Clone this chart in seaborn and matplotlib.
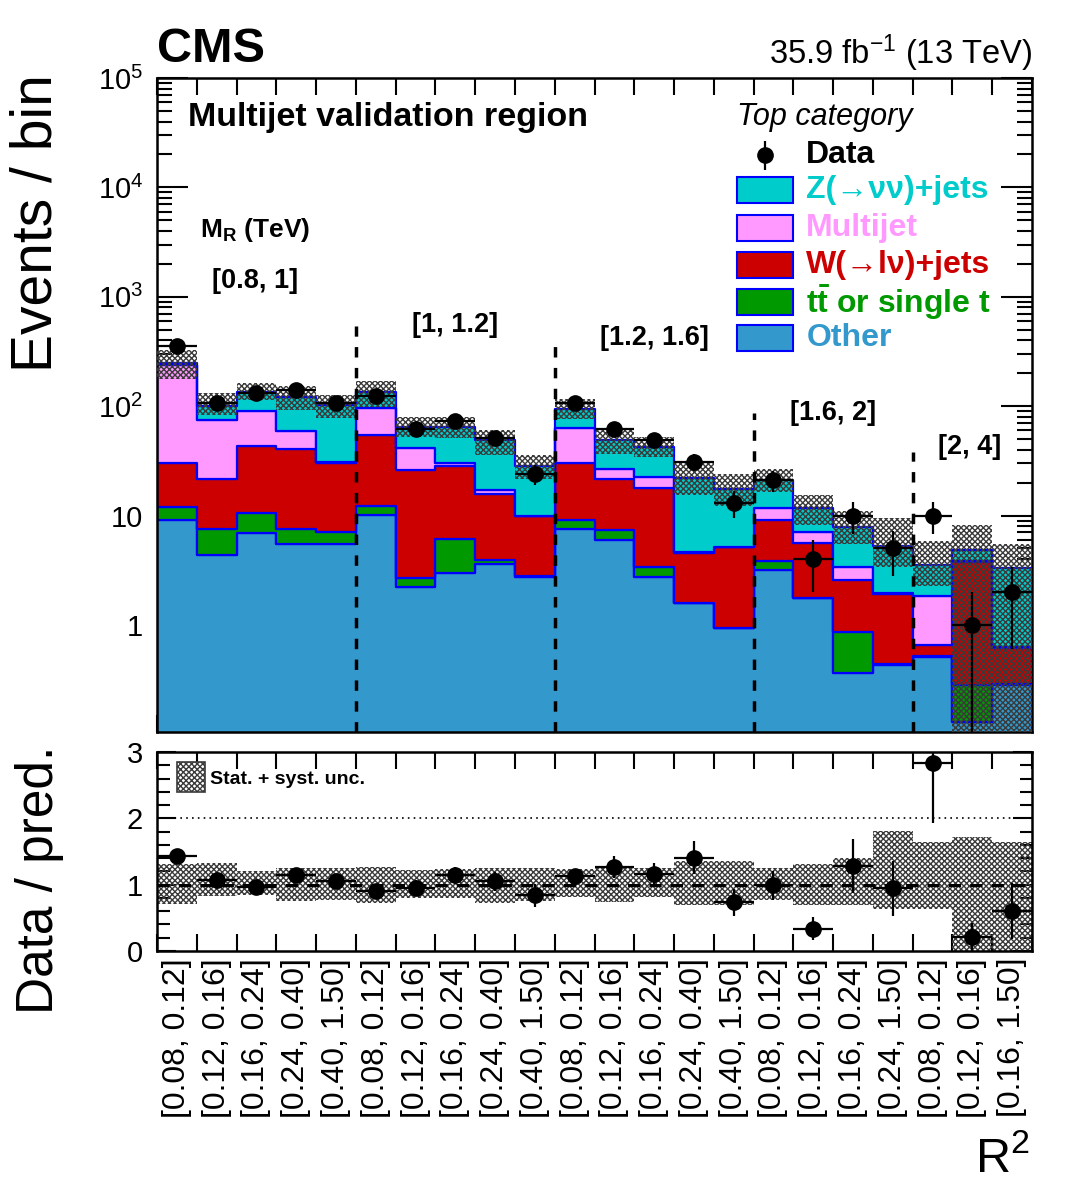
import matplotlib
matplotlib.use("Agg")
import matplotlib.pyplot as plt
from matplotlib.patches import Rectangle
from matplotlib.ticker import LogLocator, NullFormatter, MultipleLocator
import numpy as np
import pandas as pd
import seaborn as sns

# R^2 bins inside each M_R group
r2_labels = (["[0.08, 0.12]", "[0.12, 0.16]", "[0.16, 0.24]", "[0.24, 0.40]", "[0.40, 1.50]"] * 3
             + ["[0.08, 0.12]", "[0.12, 0.16]", "[0.16, 0.24]", "[0.24, 1.50]"]
             + ["[0.08, 0.12]", "[0.12, 0.16]", "[0.16, 1.50]"])
mr_groups = ["[0.8, 1]", "[1, 1.2]", "[1.2, 1.6]", "[1.6, 2]", "[2, 4]"]
group_edges = [5, 10, 15, 19]

# predicted yields per process
other = [9.1, 4.4, 6.9, 5.5, 5.5, 10.1, 2.24, 3.0, 3.6, 2.76, 7.5,
         6.0, 2.73, 1.58, 0.93, 3.18, 1.75, 0.36, 0.43, 0.51, 0.13, 0.28]
ttbar = [2.9, 3.2, 3.6, 2.1, 1.5, 2.1, 0.43, 3.1, 0.3, 0.05, 1.7,
         1.3, 0.67, 0.02, 0.01, 0.69, 0.01, 0.51, 0.01, 0.01, 0.15, 0.01]
wjets = [18, 13.9, 32.5, 33.4, 23, 41.8, 23.3, 22.4, 11.7, 7.1, 21.2,
         14.1, 14.3, 2.97, 4.17, 5.33, 3.85, 1.73, 1.49, 0.13, 3.52, 0.33]
qcd = [207, 53, 47.6, 18, 1.0, 43, 15.7, 2.0, 1.5, 0.05, 32.1,
       5.4, 4.9, 0.03, 0.02, 2.4, 1.5, 0.8, 0.02, 1.2, 0.01, 0.01]
zinv = [10, 25.5, 44.4, 63, 71, 38, 23.3, 33.5, 31.5, 18.6, 31.5,
        22.2, 19.4, 17.4, 12.5, 9.6, 4.7, 4.4, 3.35, 1.68, 1.0, 2.67]

data = [353, 107, 131, 140, 108, 123, 62, 73, 51, 24, 106,
        62, 49, 31, 13, 21, 4, 10, 5, 10, 1, 2]
data_err = [18.8, 10.3, 11.4, 11.8, 10.4, 11.1, 7.9, 8.5, 7.1, 4.9, 10.3,
            7.9, 7.0, 5.6, 3.6, 4.6, 2.0, 3.2, 2.2, 3.2, 1.0, 1.4]

# relative stat + syst uncertainty on the prediction
unc_up = [.31, .33, .20, .25, .25, .27, .22, .24, .25, .25, .24,
          .26, .25, .36, .36, .25, .31, .40, .81, .65, .72, .65]
unc_dn = [.29, .17, .16, .25, .23, .27, .20, .20, .27, .25, .19,
          .26, .19, .30, .30, .23, .31, .30, .36, .36, 1.0, 1.0]

processes = ["Z(\u2192\u03bd\u03bd)+jets", "Multijet", "W(\u2192l\u03bd)+jets", "tt or single t", "Other"]
colors = ["#00CCCC", "#FF99FF", "#CC0000", "#009900", "#3399CC"]

sns.set_theme(style="ticks")
plt.rcParams["font.family"] = ["Liberation Sans", "DejaVu Sans"]
plt.rcParams["mathtext.fontset"] = "custom"
plt.rcParams["mathtext.rm"] = "Liberation Sans"
plt.rcParams["mathtext.bf"] = "Liberation Sans:bold"
plt.rcParams["mathtext.it"] = "Liberation Sans:italic"
plt.rcParams["hatch.linewidth"] = 1.0
plt.rcParams["axes.linewidth"] = 1.8
for key in ["text.color", "axes.labelcolor", "axes.edgecolor", "xtick.color", "ytick.color"]:
    plt.rcParams[key] = "black"

nb = len(data)
edges = np.arange(nb + 1)
centers = edges[:-1] + 0.5

df = pd.DataFrame({"bin": centers, processes[0]: zinv, processes[1]: qcd,
                   processes[2]: wjets, processes[3]: ttbar, processes[4]: other})
df = df.melt(id_vars="bin", var_name="process", value_name="events")

total = np.array(other) + np.array(ttbar) + np.array(wjets) + np.array(qcd) + np.array(zinv)
data = np.array(data, dtype=float)
data_err = np.array(data_err)
up = np.array(unc_up)
dn = np.array(unc_dn)

fig = plt.figure(figsize=(10.67, 11.82), dpi=100)
ax = fig.add_axes([157 / 1067, 1 - 732 / 1182, 875 / 1067, 654 / 1182])
rax = fig.add_axes([157 / 1067, 1 - 951 / 1182, 875 / 1067, 199 / 1182])

sns.histplot(data=df, x="bin", weights="events", hue="process", hue_order=processes,
             palette=colors, multiple="stack", binwidth=1, binrange=(0, nb), element="step",
             edgecolor="#0000FF", linewidth=1.6, alpha=1, legend=False, ax=ax)

ymin = 0.105
ax.set_yscale("log")
ax.set_ylim(ymin, 1e5)
ax.set_xlim(0, nb)

band_lo = np.clip(total * (1 - dn), 1e-3, None)
band_hi = total * (1 + up)
ax.fill_between(edges, np.r_[band_lo, band_lo[-1]], np.r_[band_hi, band_hi[-1]], step="post",
                facecolor="none", edgecolor="#3a3a3a", hatch="xxxxxx", linewidth=0, zorder=3)

ax.errorbar(centers, data, yerr=data_err, xerr=0.5, fmt="o", color="black",
            ms=11, elinewidth=1.6, capsize=0, zorder=5)

# M_R group separators
sep_top = [537, 401, 86, 38]
ax.vlines(group_edges, ymin, sep_top, colors="black", linestyles=(0, (3, 3)), linewidth=2.5, zorder=4)

ax.set_xlabel("")
ax.set_ylabel("")
ax.set_xticks(edges)
ax.xaxis.set_major_formatter(NullFormatter())
ax.set_yticks([1, 10, 1e2, 1e3, 1e4, 1e5])
ax.set_yticklabels(["1", "10", "$10^{2}$", "$10^{3}$", "$10^{4}$", "$10^{5}$"])
ax.yaxis.set_minor_locator(LogLocator(base=10, subs=np.arange(2, 10)))
ax.yaxis.set_minor_formatter(NullFormatter())
ax.tick_params(which="both", direction="in", top=True, right=True, width=1.5, labelsize=21)
ax.tick_params(axis="x", which="major", length=12)
ax.tick_params(axis="y", which="major", length=22, pad=10)
ax.tick_params(axis="y", which="minor", length=11)

bold = dict(fontweight="bold", transform=ax.transAxes)
ax.text(0.035, 0.940, "Multijet validation region", fontsize=24.5, va="center", **bold)
ax.text(0.049, 0.768, r"M$_{\mathbf{R}}$ (TeV)", fontsize=19, va="center", **bold)
group_pos = [(0.112, 0.690), (0.341, 0.622), (0.569, 0.602), (0.773, 0.488), (0.929, 0.436)]
for lab, (gx, gy) in zip(mr_groups, group_pos):
    ax.text(gx, gy, lab, fontsize=19.5, ha="center", va="center", **bold)

# legend
ax.text(0.663, 0.940, "Top category", fontsize=22, style="italic", va="center", transform=ax.transAxes)
ax.errorbar([0.695], [0.882], yerr=[0.022], fmt="o", color="black", ms=11, elinewidth=1.6,
            transform=ax.transAxes, clip_on=False, zorder=6)
ax.text(0.742, 0.882, "Data", fontsize=23, va="center", color="black", **bold)
leg_labels = ["Z(\u2192\u03bd\u03bd)+jets", "Multijet", "W(\u2192l\u03bd)+jets",
              r"$\mathbf{t\bar{t}}$ or single t", "Other"]
leg_y = [0.829, 0.771, 0.714, 0.657, 0.602]
for lab, c, ly in zip(leg_labels, colors, leg_y):
    ax.add_patch(Rectangle((0.663, ly - 0.020), 0.064, 0.040, facecolor=c, edgecolor="#0000FF",
                           linewidth=1.5, transform=ax.transAxes, zorder=6))
    ax.text(0.742, ly, lab, fontsize=23, va="center", color=c, zorder=6, **bold)

# ratio panel
ratio = data / total
ratio_err = data_err / total
rlo = np.clip(1 - dn, 0, None)
rhi = 1 + up
rax.fill_between(edges, np.r_[rlo, rlo[-1]], np.r_[rhi, rhi[-1]], step="post",
                 facecolor="none", edgecolor="#3a3a3a", hatch="xxxxxx", linewidth=0, zorder=2)
rax.axhline(1, color="black", linestyle=(0, (4, 3)), linewidth=2.2, zorder=3)
rax.axhline(2, color="black", linestyle=(0, (1, 2.5)), linewidth=1.2, zorder=3)
rax.errorbar(centers, ratio, yerr=ratio_err, xerr=0.5, fmt="o", color="black",
             ms=11, elinewidth=1.6, capsize=0, zorder=5)
rax.set_xlim(0, nb)
rax.set_ylim(0, 3)
rax.set_yticks([0, 1, 2, 3])
rax.yaxis.set_minor_locator(MultipleLocator(0.2))
rax.set_xticks(edges)
rax.xaxis.set_major_formatter(NullFormatter())
rax.set_xticks(centers, minor=True)
rax.set_xticklabels(r2_labels, minor=True, rotation=90, fontsize=23)
rax.tick_params(which="both", direction="in", top=True, right=True, width=1.5, labelsize=21)
rax.tick_params(axis="x", which="major", length=12)
rax.tick_params(axis="x", which="minor", length=0, pad=5, labelsize=23)
rax.tick_params(axis="y", which="major", length=14, pad=10)
rax.tick_params(axis="y", which="minor", length=9)
rax.set_xlabel("")
rax.set_ylabel("")

rax.add_patch(Rectangle((0.023, 0.799), 0.032, 0.151, facecolor="white", edgecolor="#3a3a3a",
                        hatch="xxxxxx", linewidth=1.2, transform=rax.transAxes, zorder=6))
rax.text(0.061, 0.862, "Stat. + syst. unc.", fontsize=14, fontweight="bold", va="center",
         transform=rax.transAxes, zorder=6)

# figure labels
fig.text(157 / 1067, 1 - 62 / 1182, "CMS", fontsize=35, fontweight="bold", va="baseline")
fig.text(1032 / 1067, 1 - 64 / 1182, "35.9 fb$^{-1}$ (13 TeV)", fontsize=23.5, ha="right", va="baseline")
fig.text(37 / 1067, 1 - 223 / 1182, "Events / bin", fontsize=41, rotation=90, ha="center", va="center")
fig.text(40 / 1067, 1 - 880 / 1182, "Data / pred.", fontsize=37, rotation=90, ha="center", va="center")
fig.text(1030 / 1067, 1 - 1172 / 1182, "R$^{2}$", fontsize=35, ha="right", va="baseline")

fig.savefig("out.png", dpi=100)
